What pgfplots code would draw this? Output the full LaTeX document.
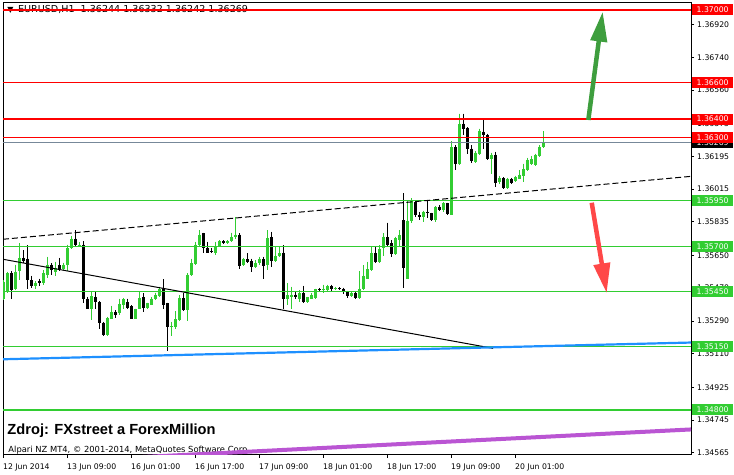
\documentclass[border=0pt]{standalone}
\usepackage{fontspec}
\setmainfont{DejaVu Sans}
\newfontfamily\arialfont{Liberation Sans}
\usepackage{pgfplots}
\pgfplotsset{compat=1.18}
\usepackage{pgfplotstable}
\usetikzlibrary{arrows.meta}

\definecolor{mtgreen}{HTML}{32CD32}
\definecolor{mtred}{HTML}{FF0000}
\definecolor{mtgrey}{HTML}{778899}
\definecolor{mtblue}{HTML}{1E90FF}
\definecolor{mtpurple}{HTML}{BA55D3}
\definecolor{arrgreen}{HTML}{3E9E3E}
\definecolor{arrred}{HTML}{FF4848}
\newcommand{\sm}{\fontsize{7.75}{9}\selectfont}

% bullish candles: index, open, high, low, close
\pgfplotstableread{
k o h l c
0 1.35413 1.35514 1.35404 1.35505
1 1.35450 1.35560 1.35444 1.35551
3 1.35464 1.35600 1.35459 1.35560
4 1.35563 1.35716 1.35514 1.35637
8 1.35483 1.35508 1.35468 1.35501
10 1.35496 1.35569 1.35490 1.35551
11 1.35545 1.35642 1.35527 1.35600
13 1.35560 1.35615 1.35538 1.35582
15 1.35574 1.35611 1.35569 1.35600
16 1.35596 1.35710 1.35563 1.35692
17 1.35692 1.35758 1.35688 1.35743
19 1.35703 1.35725 1.35697 1.35710
22 1.35358 1.35453 1.35294 1.35426
26 1.35211 1.35312 1.35208 1.35307
27 1.35303 1.35373 1.35299 1.35340
29 1.35331 1.35413 1.35325 1.35384
30 1.35380 1.35417 1.35358 1.35409
33 1.35303 1.35358 1.35299 1.35354
34 1.35358 1.35450 1.35354 1.35417
36 1.35362 1.35391 1.35358 1.35386
37 1.35380 1.35420 1.35376 1.35413
38 1.35409 1.35446 1.35404 1.35431
39 1.35428 1.35479 1.35422 1.35464
42 1.35255 1.35285 1.35208 1.35261
43 1.35255 1.35343 1.35248 1.35299
44 1.35294 1.35431 1.35288 1.35417
46 1.35349 1.35551 1.35288 1.35545
47 1.35545 1.35633 1.35538 1.35606
48 1.35602 1.35725 1.35596 1.35710
49 1.35706 1.35789 1.35703 1.35765
53 1.35661 1.35725 1.35655 1.35703
54 1.35703 1.35734 1.35697 1.35730
56 1.35716 1.35734 1.35712 1.35728
57 1.35730 1.35776 1.35725 1.35752
58 1.35752 1.35862 1.35743 1.35765
60 1.35596 1.35637 1.35591 1.35628
63 1.35587 1.35624 1.35582 1.35611
64 1.35606 1.35642 1.35600 1.35628
66 1.35596 1.35789 1.35569 1.35747
68 1.35618 1.35697 1.35615 1.35648
69 1.35648 1.35697 1.35642 1.35661
71 1.35409 1.35496 1.35376 1.35431
72 1.35422 1.35477 1.35354 1.35435
74 1.35413 1.35459 1.35395 1.35441
76 1.35395 1.35422 1.35391 1.35419
77 1.35413 1.35441 1.35409 1.35431
78 1.35417 1.35468 1.35413 1.35464
80 1.35461 1.35490 1.35441 1.35468
81 1.35459 1.35490 1.35455 1.35483
83 1.35466 1.35479 1.35459 1.35470
87 1.35428 1.35450 1.35422 1.35441
89 1.35417 1.35563 1.35413 1.35468
90 1.35464 1.35596 1.35459 1.35538
91 1.35523 1.35615 1.35519 1.35574
92 1.35569 1.35697 1.35563 1.35661
94 1.35615 1.35706 1.35611 1.35688
95 1.35689 1.35771 1.35646 1.35753
98 1.35657 1.35753 1.35652 1.35744
99 1.35734 1.35789 1.35698 1.35762
101 1.35522 1.35951 1.35518 1.35841
102 1.35841 1.35964 1.35826 1.35951
105 1.35863 1.35896 1.35835 1.35890
108 1.35844 1.35921 1.35835 1.35918
110 1.35899 1.35945 1.35890 1.35936
112 1.35874 1.36277 1.35870 1.36246
114 1.36155 1.36430 1.36149 1.36375
118 1.36164 1.36222 1.36160 1.36215
119 1.36210 1.36347 1.36204 1.36332
122 1.36182 1.36215 1.36100 1.36204
124 1.36054 1.36087 1.36045 1.36078
126 1.36021 1.36076 1.36017 1.36072
128 1.36057 1.36087 1.36054 1.36079
129 1.36072 1.36118 1.36068 1.36094
130 1.36087 1.36155 1.36054 1.36127
131 1.36118 1.36186 1.36112 1.36173
132 1.36155 1.36197 1.36145 1.36178
133 1.36145 1.36210 1.36142 1.36204
134 1.36197 1.36255 1.36191 1.36246
135 1.36244 1.36332 1.36242 1.36269
}\bull

% bearish candles: index, open, high, low, close
\pgfplotstableread{
k o h l c
2 1.35551 1.35563 1.35413 1.35459
5 1.35637 1.35679 1.35611 1.35618
6 1.35633 1.35706 1.35464 1.35514
7 1.35514 1.35538 1.35472 1.35483
9 1.35507 1.35523 1.35483 1.35501
12 1.35600 1.35606 1.35545 1.35569
14 1.35596 1.35637 1.35563 1.35574
18 1.35743 1.35789 1.35697 1.35706
20 1.35710 1.35728 1.35391 1.35413
21 1.35413 1.35422 1.35354 1.35358
23 1.35420 1.35453 1.35358 1.35395
24 1.35395 1.35398 1.35248 1.35276
25 1.35281 1.35285 1.35208 1.35211
28 1.35340 1.35349 1.35307 1.35325
31 1.35395 1.35413 1.35354 1.35362
32 1.35371 1.35376 1.35299 1.35303
35 1.35420 1.35441 1.35340 1.35362
40 1.35464 1.35519 1.35358 1.35380
41 1.35386 1.35391 1.35123 1.35257
45 1.35417 1.35441 1.35343 1.35349
50 1.35771 1.35776 1.35666 1.35692
51 1.35692 1.35725 1.35661 1.35666
52 1.35673 1.35692 1.35666 1.35670
55 1.35728 1.35734 1.35714 1.35719
59 1.35765 1.35771 1.35578 1.35591
61 1.35628 1.35661 1.35611 1.35615
62 1.35618 1.35633 1.35560 1.35587
65 1.35628 1.35642 1.35523 1.35593
67 1.35752 1.35780 1.35587 1.35618
70 1.35666 1.35706 1.35358 1.35409
73 1.35435 1.35453 1.35409 1.35422
75 1.35441 1.35483 1.35391 1.35395
79 1.35466 1.35472 1.35450 1.35461
82 1.35483 1.35490 1.35457 1.35464
84 1.35470 1.35475 1.35461 1.35466
85 1.35468 1.35473 1.35437 1.35450
86 1.35450 1.35455 1.35417 1.35428
88 1.35441 1.35453 1.35409 1.35417
93 1.35661 1.35697 1.35611 1.35615
96 1.35749 1.35830 1.35701 1.35707
97 1.35716 1.35734 1.35643 1.35657
100 1.35844 1.35991 1.35469 1.35579
103 1.35945 1.35954 1.35863 1.35872
104 1.35872 1.35890 1.35844 1.35861
106 1.35890 1.35954 1.35854 1.35881
107 1.35881 1.35885 1.35841 1.35844
109 1.35918 1.35927 1.35896 1.35899
111 1.35936 1.35940 1.35872 1.35877
113 1.36246 1.36255 1.36118 1.36155
115 1.36375 1.36430 1.36310 1.36347
116 1.36351 1.36356 1.36210 1.36237
117 1.36237 1.36255 1.36160 1.36167
120 1.36329 1.36398 1.36237 1.36310
121 1.36314 1.36320 1.36173 1.36178
123 1.36204 1.36219 1.36026 1.36050
125 1.36076 1.36081 1.36017 1.36021
127 1.36072 1.36076 1.36045 1.36050
}\bear

\begin{document}
\begin{tikzpicture}[x=1bp,y=1bp]
% texts under the chart objects
\node[anchor=center, inner sep=0, font=\fontsize{8}{9}\selectfont] at (7.5,445) {▼};
\node[anchor=west, inner sep=0, font=\fontsize{9.6}{11}\selectfont] at (15,445) {EURUSD,H1\ \ 1.36244 1.36332 1.36242 1.36269};
\node[anchor=base west, inner sep=0, font=\arialfont\bfseries\fontsize{14.7}{17}\selectfont] at (4.3,20) {Zdroj: FXstreet a ForexMillion};
\node[anchor=base west, inner sep=0, font=\fontsize{8.4}{10}\selectfont] at (5.3,2.3) {Alpari NZ MT4, © 2001-2014, MetaQuotes Software Corp.};

\begin{axis}[
  at={(0,0)}, anchor=south west,
  scale only axis, width=688bp, height=452bp,
  xmin=-0.125, xmax=171.875, ymin=1.345525, ymax=1.370385,
  axis line style={black, line width=1bp},
  tick align=outside, major tick length=3bp,
  tick style={black, line width=0.8bp},
  xtick pos=left, ytick pos=right, yticklabel pos=right,
  xtick={0,16,32,48,64,80,96,112,128},
  xticklabels={12 Jun 2014,13 Jun 09:00,16 Jun 01:00,16 Jun 17:00,17 Jun 09:00,18 Jun 01:00,18 Jun 17:00,19 Jun 09:00,20 Jun 01:00},
  ytick={1.36920,1.36740,1.36560,1.36375,1.36195,1.36015,1.35835,1.35650,1.35470,1.35290,1.35110,1.34925,1.34745,1.34565},
  scaled y ticks=false,
  /pgf/number format/assume math mode=true,
  yticklabel style={/pgf/number format/.cd, fixed, fixed zerofill, precision=5, /tikz/.cd, font=\sm, anchor=west, inner sep=0pt, xshift=3bp},
  xticklabel style={font=\sm, anchor=north west, inner sep=0pt, yshift=-5.5bp, xshift=-0.5bp},
  clip=true,
  candle/.style={only marks, mark size=0pt, mark options={draw=none, fill=none},
    error bars/y dir=minus, error bars/y explicit, error bars/error mark=none},
]
% candles
\addplot[candle, error bars/error bar style={mtgreen, line width=1bp}]
  table[x=k, y=h, y error expr=\thisrow{h}-\thisrow{l}] {\bull};
\addplot[candle, error bars/error bar style={mtgreen, line width=3bp}]
  table[x=k, y=c, y error expr={max(\thisrow{c}-\thisrow{o},0.00004)}] {\bull};
\addplot[candle, error bars/error bar style={black, line width=1bp}]
  table[x=k, y=h, y error expr=\thisrow{h}-\thisrow{l}] {\bear};
\addplot[candle, error bars/error bar style={black, line width=3bp}]
  table[x=k, y=o, y error expr={max(\thisrow{o}-\thisrow{c},0.00004)}] {\bear};

% horizontal levels
\addplot[mtred, line width=2bp] coordinates {(-0.125,1.37000) (171.875,1.37000)};
\addplot[mtred, line width=1bp] coordinates {(-0.125,1.36600) (171.875,1.36600)};
\addplot[mtred, line width=2bp] coordinates {(-0.125,1.36400) (171.875,1.36400)};
\addplot[mtred, line width=1bp] coordinates {(-0.125,1.36300) (171.875,1.36300)};
\addplot[mtgrey, line width=1bp] coordinates {(-0.125,1.36269) (171.875,1.36269)};
\addplot[mtgreen, line width=1bp] coordinates {(-0.125,1.35950) (171.875,1.35950)};
\addplot[mtgreen, line width=1bp] coordinates {(-0.125,1.35700) (171.875,1.35700)};
\addplot[mtgreen, line width=1bp] coordinates {(-0.125,1.35450) (171.875,1.35450)};
\addplot[mtgreen, line width=1bp] coordinates {(-0.125,1.35150) (171.875,1.35150)};
\addplot[mtgreen, line width=2bp] coordinates {(-0.125,1.34800) (171.875,1.34800)};

% trend lines
\addplot[black, line width=1bp, dash pattern=on 6bp off 3bp] coordinates {(-0.125,1.35739) (171.875,1.36085)};
\addplot[black, line width=1bp] coordinates {(-0.125,1.35629) (122.4,1.35139)};
\addplot[mtblue, line width=2.2bp] coordinates {(-0.125,1.35079) (171.875,1.35171)};
\addplot[mtpurple, line width=4bp] coordinates {(0,1.34503) (171.875,1.34693)};

% arrows
\addplot[arrgreen, line width=4.5bp, -{Triangle[width=16bp,length=30bp]}] coordinates {(146.2,1.36395) (149.8,1.36991)};
\addplot[arrred, line width=4.5bp, -{Triangle[width=16bp,length=30bp]}] coordinates {(147.05,1.35940) (150.8,1.35442)};

% anchors for price labels
\coordinate (r1) at (axis cs:171.875,1.37000);
\coordinate (r2) at (axis cs:171.875,1.36600);
\coordinate (r3) at (axis cs:171.875,1.36400);
\coordinate (r4) at (axis cs:171.875,1.36300);
\coordinate (cp) at (axis cs:171.875,1.36269);
\coordinate (g1) at (axis cs:171.875,1.35950);
\coordinate (g2) at (axis cs:171.875,1.35700);
\coordinate (g3) at (axis cs:171.875,1.35450);
\coordinate (g4) at (axis cs:171.875,1.35150);
\coordinate (g5) at (axis cs:171.875,1.34800);
\end{axis}

\tikzset{lab/.style={anchor=west, xshift=1bp, font=\sm, text=white, inner xsep=4.5bp, inner ysep=0pt, minimum height=11bp}}
\node[lab, fill=black] at (cp) {1.36269};
\node[lab, fill=mtred] at (r1) {1.37000};
\node[lab, fill=mtred] at (r2) {1.36600};
\node[lab, fill=mtred] at (r3) {1.36400};
\node[lab, fill=mtred] at (r4) {1.36300};
\node[lab, fill=mtgreen] at (g1) {1.35950};
\node[lab, fill=mtgreen] at (g2) {1.35700};
\node[lab, fill=mtgreen] at (g3) {1.35450};
\node[lab, fill=mtgreen] at (g4) {1.35150};
\node[lab, fill=mtgreen] at (g5) {1.34800};

\pgfresetboundingbox
\path[use as bounding box] (-3,-20) rectangle (731,455);
\end{tikzpicture}
\end{document}
